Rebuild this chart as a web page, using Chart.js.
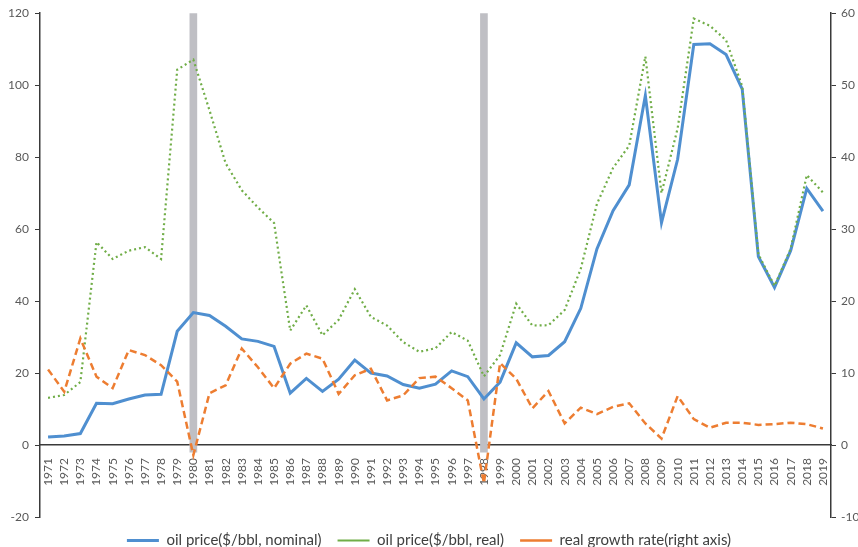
<!DOCTYPE html>
<html>
<head>
<meta charset="utf-8">
<script src="https://cdn.jsdelivr.net/npm/chart.js@4"></script>
<style>
  html, body { margin: 0; padding: 0; background: #fff; }
  #wrap { width: 858px; height: 547px; position: relative; }
</style>
</head>
<body>
<div id="wrap"><canvas id="oilChart"></canvas></div>
<script>
// data
const years = ['1971','1972','1973','1974','1975','1976','1977','1978','1979','1980',
  '1981','1982','1983','1984','1985','1986','1987','1988','1989','1990',
  '1991','1992','1993','1994','1995','1996','1997','1998','1999','2000',
  '2001','2002','2003','2004','2005','2006','2007','2008','2009','2010',
  '2011','2012','2013','2014','2015','2016','2017','2018','2019'];

const nominalPrice = [2.2, 2.5, 3.2, 11.6, 11.5, 12.8, 13.9, 14.1, 31.6, 36.8,
  36.0, 33.0, 29.5, 28.8, 27.4, 14.4, 18.5, 14.9, 18.3, 23.6,
  20.0, 19.2, 16.8, 15.8, 16.9, 20.6, 19.0, 12.8, 17.5, 28.4,
  24.5, 24.9, 28.7, 38.0, 54.5, 65.1, 72.3, 97.1, 61.8, 79.4,
  111.3, 111.5, 108.5, 98.9, 52.4, 43.8, 54.0, 71.3, 65.0];

const realPrice = [13.1, 13.9, 17.5, 56.4, 51.7, 54.0, 55.0, 51.7, 104.3, 107.1,
  93.0, 78.3, 70.8, 66.0, 61.7, 31.8, 38.8, 30.5, 34.8, 43.3,
  35.6, 33.2, 28.6, 25.9, 26.9, 31.4, 29.0, 19.1, 25.0, 39.3,
  33.2, 33.3, 37.5, 49.0, 67.0, 77.0, 83.2, 108.0, 70.0, 88.0,
  118.5, 116.5, 112.5, 99.7, 53.0, 44.2, 54.5, 75.0, 70.2];

const growthRate = [10.5, 7.4, 14.8, 9.5, 7.9, 13.2, 12.5, 11.1, 8.8, -1.4,
  7.2, 8.3, 13.4, 10.8, 7.9, 11.3, 12.7, 12.0, 7.1, 9.7,
  10.6, 6.2, 6.9, 9.3, 9.5, 7.9, 6.2, -5.3, 11.4, 9.2,
  5.1, 7.5, 3.0, 5.2, 4.3, 5.3, 5.8, 3.0, 0.9, 6.8,
  3.6, 2.4, 3.1, 3.1, 2.8, 2.9, 3.1, 2.9, 2.3];

// grey marker bars (left axis units)
const markerYears = ['1980', '1998'];
const markerRange = [-2, 120];

const leftTicks = { min: -20, max: 120, step: 20 };
const rightTicks = { min: -10, max: 60, step: 10 };

Chart.defaults.font.family = 'Lato, "Open Sans", sans-serif';

const axisDark = '#3a3a3a';
const tickGrey = '#595959';

const markers = years.map(y => markerYears.includes(y) ? markerRange : null);

new Chart(document.getElementById('oilChart').getContext('2d'), {
  type: 'line',
  data: {
    labels: years,
    datasets: [
      { label: 'oil price($/bbl, nominal)', data: nominalPrice, yAxisID: 'y',
        borderColor: '#4f8fd0', backgroundColor: '#4f8fd0', borderWidth: 3,
        pointRadius: 0, tension: 0, order: 2 },
      { label: 'oil price($/bbl, real)', data: realPrice, yAxisID: 'y',
        borderColor: '#70ad47', backgroundColor: '#70ad47', borderWidth: 2.2,
        borderDash: [2, 3], pointRadius: 0, tension: 0, order: 1 },
      { label: 'real growth rate(right axis)', data: growthRate, yAxisID: 'y1',
        borderColor: '#ed7d31', backgroundColor: '#ed7d31', borderWidth: 2.5,
        borderDash: [7, 4], pointRadius: 0, tension: 0, order: 0 },
      { type: 'bar', label: '', data: markers, yAxisID: 'y',
        backgroundColor: '#bfbfc4', barThickness: 7, order: 3 }
    ]
  },
  options: {
    responsive: true,
    maintainAspectRatio: false,
    animation: false,
    layout: { padding: { top: 12, left: 0, right: 0, bottom: -11 } },
    plugins: {
      tooltip: { enabled: false },
      legend: {
        position: 'bottom',
        labels: {
          usePointStyle: true,
          pointStyle: 'line',
          pointStyleWidth: 32,
          padding: 16,
          color: '#404040',
          font: { size: 15 },
          filter: item => item.text !== '',
          sort: (a, b) => a.datasetIndex - b.datasetIndex
        }
      }
    },
    scales: {
      x: {
        type: 'category',
        position: { y: 0 },
        offset: true,
        grid: { display: false },
        border: { display: true, color: axisDark, width: 1.5 },
        ticks: { minRotation: 90, maxRotation: 90, autoSkip: false, padding: 5,
                 color: tickGrey, font: { size: 12 } },
        afterFit: s => { s.height = 0; }
      },
      y: {
        position: 'left',
        min: leftTicks.min, max: leftTicks.max,
        grid: { display: true, drawOnChartArea: false, tickLength: 5, color: axisDark },
        border: { color: axisDark, width: 1.5 },
        ticks: { stepSize: leftTicks.step, padding: 6, color: tickGrey, font: { size: 12 } },
        afterFit: s => { s.width = 40; }
      },
      y1: {
        position: 'right',
        min: rightTicks.min, max: rightTicks.max,
        grid: { display: true, drawOnChartArea: false, tickLength: 5, color: axisDark },
        border: { color: axisDark, width: 1.5 },
        ticks: { stepSize: rightTicks.step, padding: 5, color: tickGrey, font: { size: 12 } },
        afterFit: s => { s.width = 27; }
      }
    }
  }
});
</script>
</body>
</html>
